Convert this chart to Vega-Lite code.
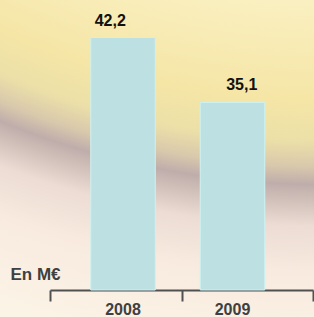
{
  "$schema": "https://vega.github.io/schema/vega-lite/v6.json",
  "width": 314,
  "height": 317,
  "autosize": {"type": "none"},
  "padding": 0,
  "background": "#fbf3e5",
  "config": {
    "view": {
      "stroke": null,
      "fill": {
        "gradient": "radial", "x1": 1.02, "y1": -2.09, "r1": 0, "x2": 1.02, "y2": -2.09, "r2": 3.2,
        "stops": [
          {"offset": 0, "color": "#fcf5d0"},
          {"offset": 0.656, "color": "#faefc0"},
          {"offset": 0.752, "color": "#f5e6a6"},
          {"offset": 0.792, "color": "#ece0a8"},
          {"offset": 0.817, "color": "#d9c9ac"},
          {"offset": 0.835, "color": "#bfadab"},
          {"offset": 0.85, "color": "#d0bfb8"},
          {"offset": 0.876, "color": "#ecdcd4"},
          {"offset": 0.921, "color": "#f8eadf"},
          {"offset": 1, "color": "#fbf3e5"}
        ]
      }
    },
    "font": "Liberation Sans",
    "locale": {"number": {"decimal": ",", "thousands": " ", "grouping": [3], "currency": ["", " €"]}}
  },
  "data": {"values": [
    {"year": "2008", "value": 42.2},
    {"year": "2009", "value": 35.1}
  ]},
  "layer": [
    {
      "mark": {"type": "bar", "opacity": 0},
      "encoding": {
        "x": {"field": "year", "type": "nominal",
          "scale": {"range": [50, 313], "paddingInner": 0, "paddingOuter": 0},
          "axis": {"orient": "bottom", "offset": -27, "domain": false, "labels": false, "ticks": true,
            "tickBand": "extent", "tickSize": 11, "tickWidth": 2, "tickColor": "#505050", "title": null, "grid": false}},
        "y": {"field": "value", "type": "quantitative",
          "scale": {"domain": [14.6, 46.3], "range": [290, 0], "zero": false, "clamp": true, "nice": false},
          "axis": {"title": "En M€", "labels": false, "ticks": false, "domain": false, "grid": false,
            "titleAngle": 0, "titleX": 10, "titleY": 279, "titleAlign": "left", "titleBaseline": "alphabetic",
            "titleFontSize": 17, "titleFontWeight": "bold", "titleColor": "#404040"}}
      }
    },
    {
      "mark": {"type": "bar", "fill": "#bde0e3", "stroke": "#cdf2f2", "strokeWidth": 1},
      "encoding": {
        "x": {"field": "year", "type": "nominal",
          "scale": {"range": [50, 313], "paddingInner": 0.411, "paddingOuter": 0.4065, "align": 0.458},
          "axis": {"orient": "bottom", "offset": -27, "domain": true, "domainColor": "#505050", "domainWidth": 2,
            "ticks": false, "labelPadding": 11, "labelAngle": 0, "labelBaseline": "top", "labelFontSize": 16,
            "labelFontWeight": "bold", "labelColor": "#404040", "title": null, "grid": false}},
        "y": {"field": "value", "type": "quantitative",
          "scale": {"domain": [14.6, 46.3], "range": [290, 0], "zero": false, "clamp": true, "nice": false},
          "axis": {"title": "En M€", "labels": false, "ticks": false, "domain": false, "grid": false,
            "titleAngle": 0, "titleX": 10, "titleY": 279, "titleAlign": "left", "titleBaseline": "alphabetic",
            "titleFontSize": 17, "titleFontWeight": "bold", "titleColor": "#404040"}}
      }
    },
    {
      "mark": {"type": "text", "dy": -12, "baseline": "alphabetic", "fontSize": 16, "fontWeight": "bold", "color": "#111111"},
      "encoding": {
        "x": {"field": "year", "type": "nominal",
          "scale": {"range": [50, 313], "paddingInner": 0.411, "paddingOuter": 0.4065, "align": 0.458},
          "axis": null},
        "y": {"field": "value", "type": "quantitative",
          "scale": {"domain": [14.6, 46.3], "range": [290, 0], "zero": false, "clamp": true, "nice": false},
          "axis": {"title": "En M€", "labels": false, "ticks": false, "domain": false, "grid": false,
            "titleAngle": 0, "titleX": 10, "titleY": 279, "titleAlign": "left", "titleBaseline": "alphabetic",
            "titleFontSize": 17, "titleFontWeight": "bold", "titleColor": "#404040"}},
        "text": {"field": "value", "type": "quantitative", "format": ".1f"}
      }
    }
  ],
  "resolve": {"scale": {"x": "independent"}, "axis": {"x": "independent"}}
}
